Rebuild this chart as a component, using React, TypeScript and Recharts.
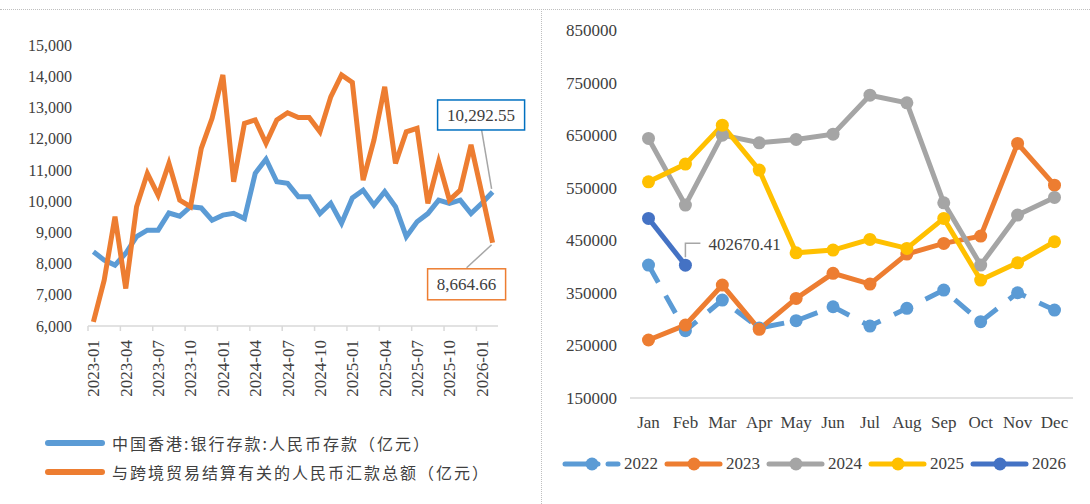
import { LineChart, Line, XAxis, YAxis } from 'recharts';

const months = [
  '2023-01', '2023-02', '2023-03', '2023-04', '2023-05', '2023-06', '2023-07', '2023-08', '2023-09', '2023-10', '2023-11', '2023-12',
  '2024-01', '2024-02', '2024-03', '2024-04', '2024-05', '2024-06', '2024-07', '2024-08', '2024-09', '2024-10', '2024-11', '2024-12',
  '2025-01', '2025-02', '2025-03', '2025-04', '2025-05', '2025-06', '2025-07', '2025-08', '2025-09', '2025-10', '2025-11', '2025-12',
  '2026-01', '2026-02',
];
const hkDeposits = [
  8380, 8110, 7950, 8330, 8860, 9070, 9070, 9620, 9520, 9820, 9780, 9390,
  9550, 9610, 9440, 10890, 11340, 10620, 10570, 10140, 10140, 9600, 9930, 9290,
  10100, 10350, 9870, 10300, 9820, 8860, 9340, 9600, 10030, 9930, 10030, 9600,
  9930, 10292.55,
];
const remittance = [
  6130, 7470, 9500, 7200, 9820, 10890, 10190, 11210, 10030, 9820, 11690, 12650,
  14040, 10620, 12490, 12600, 11850, 12600, 12830, 12680, 12680, 12220, 13340, 14040,
  13800, 10670, 11950, 13660, 11210, 12220, 12330, 9930, 11260, 10030, 10350, 11800,
  10250, 8664.66,
];
const leftTicks = [6000, 7000, 8000, 9000, 10000, 11000, 12000, 13000, 14000, 15000];

const monthNames = ['Jan', 'Feb', 'Mar', 'Apr', 'May', 'Jun', 'Jul', 'Aug', 'Sep', 'Oct', 'Nov', 'Dec'];
const v2022 = [402800, 278000, 336300, 283000, 297000, 323600, 286900, 320500, 355300, 295100, 350200, 317300];
const v2023 = [260300, 288800, 364800, 280600, 339500, 387100, 366700, 423800, 444100, 458000, 634200, 554900];
const v2024 = [643700, 516900, 650000, 635400, 641800, 651900, 726000, 711400, 521300, 402900, 497900, 531600];
const v2025 = [561200, 594900, 669000, 583500, 426200, 431400, 451700, 434600, 491600, 374300, 407200, 447200];
const v2026 = [491600, 402670.41, null, null, null, null, null, null, null, null, null, null];
const rightTicks = [150000, 250000, 350000, 450000, 550000, 650000, 750000, 850000];

const leftData = months.map((m, i) => ({ month: m, deposits: hkDeposits[i], remit: remittance[i] }));
const rightData = monthNames.map((m, i) => ({
  month: m, y2022: v2022[i], y2023: v2023[i], y2024: v2024[i], y2025: v2025[i], y2026: v2026[i],
}));

const serif = '"Liberation Serif", "DejaVu Serif", serif';
const cjk = '"Noto Sans CJK SC", sans-serif';
const textColor = '#404040';
const blue = '#5b9bd5';
const orange = '#ed7d31';

const years = [
  { key: 'y2022', name: '2022', color: '#5b9bd5', dashed: true },
  { key: 'y2023', name: '2023', color: '#ed7d31' },
  { key: 'y2024', name: '2024', color: '#a5a5a5' },
  { key: 'y2025', name: '2025', color: '#ffc000' },
  { key: 'y2026', name: '2026', color: '#4472c4' },
];

const fmt2 = (v: number) => v.toLocaleString('en-US', { minimumFractionDigits: 2, maximumFractionDigits: 2 });

function MonthTick(props: any) {
  const { x, y, payload } = props;
  const ty = y + 14;
  return (
    <g>
      <line x1={x - 5.4} x2={x - 5.4} y1={y} y2={y + 5} stroke="#d9d9d9" strokeWidth={1.5} />
      <text x={x} y={ty} dy="0.35em" textAnchor="end" transform={`rotate(-90 ${x} ${ty})`}
        fontFamily={serif} fontSize={17} fill={textColor}>{payload.value}</text>
    </g>
  );
}

function DepositLabel(props: any) {
  const { x, y, index, value } = props;
  if (index !== hkDeposits.length - 1) return null;
  return (
    <g>
      <line x1={x - 11} y1={y - 62} x2={x - 1} y2={y - 3} stroke="#a6a6a6" strokeWidth={1.5} />
      <rect x={x - 55} y={y - 92} width={87} height={30} fill="#fff" stroke="#0070c0" strokeWidth={1.5} />
      <text x={x - 11.5} y={y - 77} dy="0.35em" textAnchor="middle" fontFamily={serif} fontSize={17} fill={textColor}>{fmt2(value)}</text>
    </g>
  );
}

function RemitLabel(props: any) {
  const { x, y, index, value } = props;
  if (index !== remittance.length - 1) return null;
  return (
    <g>
      <line x1={x - 26} y1={y + 25} x2={x - 1} y2={y + 2} stroke="#a6a6a6" strokeWidth={1.5} />
      <rect x={x - 65} y={y + 26} width={78} height={31} fill="#fff" stroke={orange} strokeWidth={1.5} />
      <text x={x - 26} y={y + 41.5} dy="0.35em" textAnchor="middle" fontFamily={serif} fontSize={17} fill={textColor}>{fmt2(value)}</text>
    </g>
  );
}

function LatestLabel(props: any) {
  const { x, y, index, value } = props;
  if (index !== 1) return null;
  return (
    <g>
      <polyline points={`${x},${y - 8} ${x},${y - 22} ${x + 15},${y - 22}`} fill="none" stroke="#a6a6a6" strokeWidth={1.5} />
      <text x={x + 23} y={y - 21} dy="0.35em" fontFamily={serif} fontSize={17} fill={textColor}>{value.toFixed(2)}</text>
    </g>
  );
}

function LeftChart() {
  return (
    <LineChart width={545} height={504} data={leftData} margin={{ top: 45, right: 47, bottom: 108, left: 0 }}>
      <XAxis dataKey="month" interval={2} height={70} tickSize={0} tickMargin={0} tick={<MonthTick />}
        padding={{ left: 5.4, right: 5.4 }} axisLine={{ stroke: '#d9d9d9', strokeWidth: 1.5 }} tickLine={false} />
      <YAxis width={88} domain={[6000, 15000]} ticks={leftTicks} axisLine={false} tickLine={false} tickSize={0} tickMargin={16}
        tickFormatter={(v: number) => v.toLocaleString('en-US')}
        tick={{ fontFamily: serif, fontSize: 16, fill: textColor }} />
      <Line dataKey="deposits" stroke={blue} strokeWidth={5} dot={false} isAnimationActive={false} label={<DepositLabel />} />
      <Line dataKey="remit" stroke={orange} strokeWidth={5} dot={false} isAnimationActive={false} label={<RemitLabel />} />
    </LineChart>
  );
}

function RightChart() {
  return (
    <LineChart width={545} height={504} data={rightData} margin={{ top: 30, right: 17, bottom: 66, left: 0 }}>
      <XAxis dataKey="month" height={40} tickSize={0} tickMargin={18} padding={{ left: 18.5, right: 18.5 }}
        axisLine={{ stroke: '#d9d9d9', strokeWidth: 1.5 }} tickLine={false}
        tick={{ fontFamily: serif, fontSize: 17, fill: textColor }} interval={0} />
      <YAxis width={85} domain={[150000, 850000]} ticks={rightTicks} axisLine={false} tickLine={false} tickSize={0} tickMargin={13}
        tick={{ fontFamily: serif, fontSize: 17, fill: textColor }} />
      {years.map(y => (
        <Line key={y.key} dataKey={y.key} stroke={y.color} strokeWidth={5} strokeDasharray={y.dashed ? '20 15' : undefined}
          dot={{ r: 6.5, fill: y.color, stroke: y.color, strokeWidth: 0 }} isAnimationActive={false}
          label={y.key === 'y2026' ? <LatestLabel /> : undefined} />
      ))}
    </LineChart>
  );
}

function YearIcon({ color, dashed }: { color: string; dashed?: boolean }) {
  return (
    <svg width={59} height={16} style={{ display: 'block' }}>
      {dashed ? (
        <>
          <line x1={3} y1={8} x2={36} y2={8} stroke={color} strokeWidth={5} strokeLinecap="round" />
          <line x1={46} y1={8} x2={56} y2={8} stroke={color} strokeWidth={5} strokeLinecap="round" />
        </>
      ) : (
        <line x1={3} y1={8} x2={56} y2={8} stroke={color} strokeWidth={5} strokeLinecap="round" />
      )}
      <circle cx={30} cy={8} r={6.5} fill={color} />
    </svg>
  );
}

export default function App() {
  const leftLegend = [
    { name: '中国香港:银行存款:人民币存款（亿元）', color: blue, top: 443 },
    { name: '与跨境贸易结算有关的人民币汇款总额（亿元）', color: orange, top: 472 },
  ];
  return (
    <div style={{ position: 'absolute', left: 0, top: 0, width: 1090, height: 504, background: '#fff', overflow: 'hidden' }}>
      <div style={{ position: 'absolute', left: 0, top: 9, width: 1090, borderTop: '1px dotted #bfbfbf' }} />
      <div style={{ position: 'absolute', left: 541, top: 9, height: 495, borderLeft: '1px dotted #bfbfbf' }} />
      <div style={{ position: 'absolute', left: 0, top: 0 }}><LeftChart /></div>
      <div style={{ position: 'absolute', left: 545, top: 0 }}><RightChart /></div>
      {leftLegend.map(l => (
        <div key={l.name} style={{ position: 'absolute', left: 44, top: l.top - 12, height: 24, display: 'flex', alignItems: 'center' }}>
          <svg width={62} height={10} style={{ display: 'block' }}>
            <line x1={4} y1={5} x2={58} y2={5} stroke={l.color} strokeWidth={6} strokeLinecap="round" />
          </svg>
          <span style={{ marginLeft: 6, fontFamily: cjk, fontSize: 16, letterSpacing: 2, color: textColor, whiteSpace: 'nowrap' }}>{l.name}</span>
        </div>
      ))}
      <div style={{ position: 'absolute', left: 562, top: 464 - 12, height: 24, display: 'flex', alignItems: 'center' }}>
        {years.map(y => (
          <div key={y.key} style={{ display: 'flex', alignItems: 'center', marginRight: 6 }}>
            <YearIcon color={y.color} dashed={y.dashed} />
            <span style={{ marginLeft: 3, fontFamily: serif, fontSize: 17, color: textColor }}>{y.name}</span>
          </div>
        ))}
      </div>
    </div>
  );
}
